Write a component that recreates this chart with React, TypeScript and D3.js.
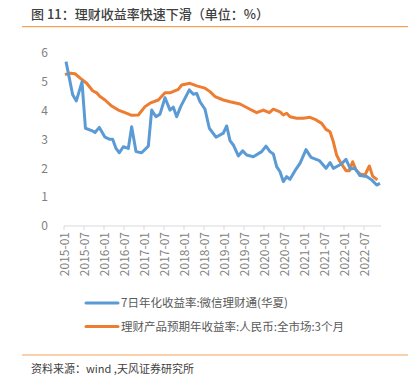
import React from "react";
import * as d3 from "d3";

const title = "图 11：理财收益率快速下滑（单位：%）";
const source = "资料来源：wind ,天风证券研究所";
const seriesNames = ["7日年化收益率:微信理财通(华夏)", "理财产品预期年收益率:人民币:全市场:3个月"];
const seriesColors = ["#5b9bd5", "#ed7d31"];
const yTicks = [0, 1, 2, 3, 4, 5, 6];
const xTickLabels = [
  "2015-01", "2015-07", "2016-01", "2016-07", "2017-01", "2017-07", "2018-01", "2018-07",
  "2019-01", "2019-07", "2020-01", "2020-07", "2021-01", "2021-07", "2022-01", "2022-07",
];

const blueDates = [
  "2015-01-19", "2015-03-19", "2015-04-22", "2015-06-13", "2015-07-14", "2015-09-10", "2015-10-10", "2015-11-19",
  "2016-01-10", "2016-02-19", "2016-03-19", "2016-04-19", "2016-05-19", "2016-06-25", "2016-08-10", "2016-09-10",
  "2016-10-19", "2016-12-10", "2017-02-10", "2017-03-10", "2017-04-19", "2017-05-25", "2017-07-10", "2017-08-25",
  "2017-09-25", "2017-10-25", "2017-12-01", "2018-02-19", "2018-03-25", "2018-04-25", "2018-05-25", "2018-07-10",
  "2018-08-19", "2018-10-19", "2018-12-25", "2019-01-25", "2019-02-25", "2019-03-25", "2019-05-10", "2019-06-19",
  "2019-07-25", "2019-09-25", "2019-12-10", "2020-01-19", "2020-02-25", "2020-03-25", "2020-04-25", "2020-05-25",
  "2020-06-25", "2020-07-25", "2020-08-25", "2020-10-10", "2020-11-25", "2021-01-19", "2021-03-04", "2021-05-19",
  "2021-07-19", "2021-08-25", "2021-09-25", "2021-12-04", "2022-01-19", "2022-02-28", "2022-04-10", "2022-05-25",
  "2022-07-25", "2022-09-10", "2022-10-25", "2022-11-25",
];
const blueValues = [
  5.70, 4.55, 4.34, 5.0, 3.39, 3.31, 3.24, 3.42,
  3.08, 3.01, 3.01, 2.69, 2.54, 2.75, 2.69, 3.44,
  2.58, 2.54, 2.77, 4.02, 3.79, 3.88, 4.45, 4.02,
  4.12, 3.79, 4.14, 4.72, 4.57, 4.60, 4.31, 4.05,
  3.39, 3.08, 3.22, 3.47, 2.96, 2.81, 2.43, 2.61,
  2.46, 2.40, 2.58, 2.77, 2.58, 2.50, 2.06, 1.88,
  1.54, 1.71, 1.62, 1.92, 2.17, 2.65, 2.38, 2.27,
  2.0, 2.20, 2.0, 2.14, 2.31, 1.98, 2.0, 1.75,
  1.72, 1.60, 1.42, 1.48,
];

const orangeDates = [
  "2015-01-10", "2015-02-25", "2015-04-10", "2015-05-29", "2015-07-25", "2015-09-19", "2015-10-25", "2015-11-25",
  "2016-01-10", "2016-03-10", "2016-05-10", "2016-07-10", "2016-09-10", "2016-11-10", "2017-01-10", "2017-02-25",
  "2017-05-10", "2017-07-10", "2017-08-25", "2017-11-10", "2017-12-10", "2018-02-25", "2018-04-25", "2018-07-10",
  "2018-08-25", "2018-10-10", "2018-12-25", "2019-02-25", "2019-05-25", "2019-08-25", "2019-10-25", "2019-12-25",
  "2020-02-19", "2020-03-25", "2020-05-25", "2020-06-25", "2020-07-25", "2020-08-25", "2020-10-25", "2020-12-25",
  "2021-02-25", "2021-04-10", "2021-06-10", "2021-07-19", "2021-08-25", "2021-09-25", "2021-10-25", "2021-11-25",
  "2022-01-19", "2022-02-19", "2022-03-19", "2022-04-19", "2022-05-25", "2022-07-10", "2022-08-19", "2022-09-19",
  "2022-11-01",
];
const orangeValues = [
  5.25, 5.30, 5.28, 5.12, 4.95, 4.69, 4.62, 4.49,
  4.37, 4.16, 4.02, 3.93, 3.84, 3.85, 4.14, 4.26,
  4.37, 4.62, 4.62, 4.74, 4.89, 4.95, 4.86, 4.78,
  4.66, 4.49, 4.37, 4.31, 4.23, 4.05, 3.93, 4.02,
  3.93, 4.05, 3.96, 3.85, 3.91, 3.79, 3.74, 3.74,
  3.77, 3.70, 3.56, 3.35, 3.27, 2.92, 2.46, 2.23,
  1.92, 1.92, 2.23, 1.94, 1.80, 1.77, 2.08, 1.73,
  1.60,
];

const monthIndex = (s: string) => {
  const [y, m, d] = s.split("-").map(Number);
  return (y - 2015) * 12 + (m - 1) + ((d || 1) - 1) / 30;
};

const FONT = "'Noto Sans CJK SC', 'Noto Sans', sans-serif";

export default function App() {
  const W = 413, H = 384;
  const x = d3.scaleLinear().domain([0, 95.1]).range([64, 381]);
  const y = d3.scaleLinear().domain([0, 6]).range([226, 53]);
  const line = d3
    .line<[number, number]>()
    .x((d) => x(d[0]))
    .y((d) => y(d[1]))
    .curve(d3.curveLinear);

  const blue: [number, number][] = blueDates.map((d, i) => [monthIndex(d), blueValues[i]]);
  const orange: [number, number][] = orangeDates.map((d, i) => [monthIndex(d), orangeValues[i]]);
  const tickPos = xTickLabels.map((l) => monthIndex(l + "-01"));
  const domainEnd = x.domain()[1];

  return (
    <svg width={W} height={H} style={{ position: "absolute", left: 0, top: 0, background: "#fff" }} fontFamily={FONT}>
      <text x={31} y={19} fontSize={13} fill="#404040" fontWeight={500}>{title}</text>
      <line x1={22} x2={408} y1={26.7} y2={26.7} stroke="#f4a35a" strokeWidth={1.2} />

      {yTicks.map((t) => (
        <text key={t} x={48} y={y(t)} dy="0.35em" textAnchor="end" fontSize={12} fill="#7f7f7f">{t}</text>
      ))}

      <line x1={x(0)} x2={x(domainEnd)} y1={226} y2={226} stroke="#d9d9d9" strokeWidth={1} />
      {tickPos.map((m, i) => (
        <g key={i}>
          <line x1={x(m)} x2={x(m)} y1={226} y2={230} stroke="#d9d9d9" strokeWidth={1} />
          <text
            transform={`translate(${x(m) + 1},232) rotate(-90)`}
            textAnchor="end"
            dy="0.35em"
            fontSize={12}
            fill="#7f7f7f"
          >
            {xTickLabels[i]}
          </text>
        </g>
      ))}

      <path d={line(orange) || ""} fill="none" stroke={seriesColors[1]} strokeWidth={3} strokeLinejoin="round" />
      <path d={line(blue) || ""} fill="none" stroke={seriesColors[0]} strokeWidth={3} strokeLinejoin="round" />

      {seriesNames.map((n, i) => (
        <g key={n}>
          <line x1={86} x2={118} y1={303 + i * 23.5} y2={303 + i * 23.5} stroke={seriesColors[i]} strokeWidth={3} strokeLinecap="round" />
          <text x={121} y={303 + i * 23.5} dy="0.35em" fontSize={11.5} fill="#595959">{n}</text>
        </g>
      ))}

      <line x1={22} x2={408} y1={355} y2={355} stroke="#f4a35a" strokeWidth={1.2} />
      <text x={31} y={373} fontSize={11} fill="#404040">{source}</text>
    </svg>
  );
}
